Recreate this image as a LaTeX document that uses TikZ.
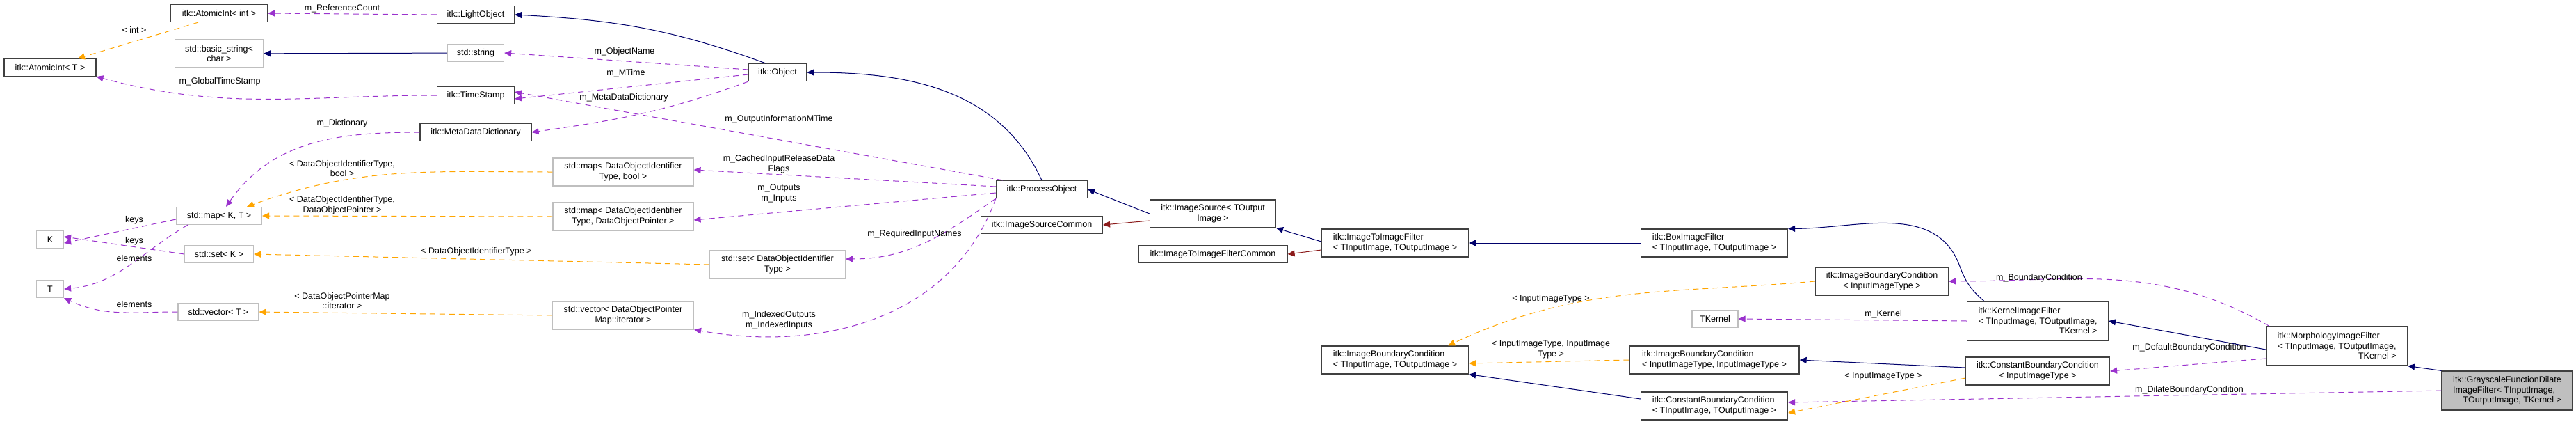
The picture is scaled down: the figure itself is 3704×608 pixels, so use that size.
\documentclass[tikz,border=0pt]{standalone}
\usepackage{fontspec}
\setmainfont{Liberation Sans}
\usetikzlibrary{arrows.meta}
\colorlet{inherit color}{black!10!blue!45!black}
\definecolor{usage color}{HTML}{9A32CD}
\definecolor{instance color}{HTML}{FFA500}
\definecolor{private color}{HTML}{8B1A1A}
\tikzset{
    x={1pt},
    y={-1pt},
    every node/.style={font=\fontsize{12.5}{14.5}\selectfont},
    class/.style={
        draw=black!75, line width={1.2pt},
        fill=white, align=center,
        inner xsep=4pt, inner ysep=2pt,
        minimum width={#1}, minimum height={25},
    },
    class/.default={60},
    external/.style={
        class={#1}, draw=black!25,
    },
    external/.default={40},
    tall/.style={minimum height={40}},
    taller/.style={minimum height={56}},
    edge label/.style={align=center, inner sep=0pt},
    tip/.style={-{Triangle[length=10,width=9]}},
    inherit/.style={tip, draw=inherit color!70!black, line width={1pt},
        -{Triangle[length=10,width=9,fill=inherit color!70!black]}},
    private/.style={draw=private color, line width={1pt},
        -{Triangle[length=10,width=9,fill=private color]}},
    usage/.style={draw=usage color, line width={1pt}, dash pattern=on 8pt off 6pt,
        -{Triangle[length=10,width=9,fill=usage color]}},
    instance/.style={draw=instance color, line width={1pt}, dash pattern=on 8pt off 6pt,
        -{Triangle[length=10,width=9,fill=instance color]}},
}
\colorlet{inherit color}{blue!60!black}
\begin{document}
\begin{tikzpicture}
\useasboundingbox (0,0) rectangle (3704,608);
% classes
\node[class={139}] (atomicint) at (315,19) {itk::AtomicInt< int >};
\node[class={132}] (atomicT) at (72,97) {itk::AtomicInt< T >};
\node[external={127}, tall] (basicstring) at (315,77) {std::basic\_string<\\char >};
\node[class={111}] (lightobject) at (684,21) {itk::LightObject};
\node[external={81}] (string) at (684,76) {std::string};
\node[class={111}] (timestamp) at (684,137) {itk::TimeStamp};
\node[class={160}] (metadict) at (684,190) {itk::MetaDataDictionary};
\node[class={83}] (object) at (1118,104) {itk::Object};
\node[external={123}] (mapKT) at (315,310) {std::map< K, T >};
\node[external={39}] (K) at (72,344) {K};
\node[external={99}] (setK) at (315,365) {std::set< K >};
\node[external={39}] (T) at (72,415) {T};
\node[external={116}] (vectorT) at (314,448) {std::vector< T >};
\node[external={202}, tall] (mapbool) at (896,247) {std::map< DataObjectIdentifier\\Type, bool >};
\node[external={202}, tall] (mappointer) at (896,311) {std::map< DataObjectIdentifier\\Type, DataObjectPointer >};
\node[external={195}, tall] (setid) at (1118,380) {std::set< DataObjectIdentifier\\Type >};
\node[external={203}, tall] (vectoriter) at (896,453) {std::vector< DataObjectPointer\\Map::iterator >};
\node[class={131}] (processobject) at (1498,272) {itk::ProcessObject};
\node[class={175}] (sourcecommon) at (1498,323) {itk::ImageSourceCommon};
\node[class={181}, tall] (imagesource) at (1744,307) {itk::ImageSource< TOutput\\Image >};
\node[class={214}] (filtercommon) at (1744,365) {itk::ImageToImageFilterCommon};
\node[class={211}, tall, align=left] (imagefilter) at (2006,349) {itk::ImageToImageFilter\\< TInputImage, TOutputImage >};
\node[class={211}, tall, align=left] (boxfilter) at (2465,349) {itk::BoxImageFilter\\< TInputImage, TOutputImage >};
\node[class={211}, tall, align=left] (boundary) at (2006,517) {itk::ImageBoundaryCondition\\< TInputImage, TOutputImage >};
\node[class={244}, tall, align=left] (boundarytwo) at (2465,517) {itk::ImageBoundaryCondition\\< InputImageType, InputImageType >};
\node[class={211}, tall, align=left] (constantbc) at (2465,583) {itk::ConstantBoundaryCondition\\< TInputImage, TOutputImage >};
\node[class={191}, tall] (boundaryone) at (2706,404) {itk::ImageBoundaryCondition\\< InputImageType >};
\node[external={66}] (kernel) at (2466,458) {TKernel};
\node[class={203}, taller, align=left] (kernelfilter) at (2930,461) {itk::KernelImageFilter\\< TInputImage, TOutputImage,\\\hfill TKernel >};
\node[class={207}, tall] (constantone) at (2930,533) {itk::ConstantBoundaryCondition\\< InputImageType >};
\node[class={203}, taller, align=left] (morphology) at (3360,497) {itk::MorphologyImageFilter\\< TInputImage, TOutputImage,\\\hfill TKernel >};
\node[class={188}, taller, fill=black!25, align=left] (dilate) at (3605,561) {itk::GrayscaleFunctionDilate\\ImageFilter< TInputImage,\\\hfill TOutputImage, TKernel >};
% inheritance
\draw[inherit] (string) -- (basicstring);
\draw[inherit] (object.north west) ++(25,0) to[out=160,in=-3] (lightobject.east);
\draw[inherit] (processobject.north) to[out=115,in=0] (object.east);
\draw[inherit] (imagesource.west) -- (processobject.east);
\draw[private] (imagesource.west) ++(0,10) -- (sourcecommon.east);
\draw[inherit] (imagefilter.west) ++(0,-2) -- (imagesource.south east);
\draw[private] (imagefilter.west) ++(0,10) -- (filtercommon.east);
\draw[inherit] (boxfilter) -- (imagefilter);
\draw[inherit] (kernelfilter.north west) ++(25,0) to[out=140,in=-70] ++(-35,-50) to[out=110,in=0] (boxfilter.north east);
\draw[inherit] (morphology.west) ++(0,5) -- (kernelfilter.east);
\draw[inherit] (dilate.north west) -- (morphology.south east);
\draw[inherit] (constantone.west) ++(0,-5) -- (boundarytwo.east);
\draw[inherit] (constantbc.west) ++(0,-10) -- (boundary.south east);
% members
\draw[usage] (lightobject.west) -- (atomicint.east);
\draw[usage] (timestamp.west) to[out=180,in=-15] (atomicT.south east);
\draw[usage] (object.west) ++(0,-4) -- (string.east);
\draw[usage] (object.west) ++(0,3) -- ([yshift=-5]timestamp.east);
\draw[usage] (object.south west) to[out=200,in=8] (metadict.east);
\draw[usage] (processobject.north west) ++(10,0) -- ([yshift=5]timestamp.east);
\draw[usage] (metadict.west) to[out=180,in=55] ([xshift=10]mapKT.north);
\draw[usage] (processobject.west) ++(0,-4) -- ([yshift=3]mapbool.east);
\draw[usage] (processobject.west) ++(0,5) -- ([yshift=-5]mappointer.east);
\draw[usage] (processobject.south west) to[out=-145,in=0] ([yshift=8]setid.east);
\draw[usage] (processobject.south west) to[out=-110,in=-10] (vectoriter.south east);
\draw[usage] ([yshift=-5]mapKT.west) -- ([yshift=-5]K.east);
\draw[usage] (setK.west) -- ([yshift=4]K.east);
\draw[usage] ([xshift=-45]mapKT.south) to[out=-150,in=5] (T.east);
\draw[usage] (vectorT.west) to[out=180,in=-25] (T.south east);
\draw[usage] (kernelfilter.west) -- (kernel.east);
\draw[usage] (morphology.north west) ++(5,0) to[out=150,in=0] (boundaryone.east);
\draw[usage] (morphology.west) ++(0,18) -- (constantone.east);
\draw[usage] (dilate.west) -- ([yshift=5]constantbc.east);
% template instances
\draw[instance] ([xshift=-30]atomicint.south) -- ([xshift=40]atomicT.north);
\draw[instance] (mapbool.west) to[out=180,in=20] ([xshift=40]mapKT.north);
\draw[instance] (mappointer.west) -- (mapKT.east);
\draw[instance] (setid.west) -- (setK.east);
\draw[instance] (vectoriter.west) -- (vectorT.east);
\draw[instance] (boundaryone.west) to[out=185,in=25] ([xshift=-30]boundary.north east);
\draw[instance] (boundarytwo.west) -- ([yshift=-5]boundary.east);
\draw[instance] (constantone.west) ++(0,10) -- ([yshift=-10]constantbc.east);
% labels
\node[edge label] (lint) at (193,43) {< int >};
\node[edge label] (lrefcount) at (492,12) {m\_ReferenceCount};
\node[edge label] (lglobal) at (316,117) {m\_GlobalTimeStamp};
\node[edge label] (lobjname) at (898,74) {m\_ObjectName};
\node[edge label] (lmtime) at (900,105) {m\_MTime};
\node[edge label] (lmetadict) at (897,140) {m\_MetaDataDictionary};
\node[edge label] (loutinfo) at (1120,171) {m\_OutputInformationMTime};
\node[edge label] (lcached) at (1120,236) {m\_CachedInputReleaseData\\Flags};
\node[edge label] (loutputs) at (1120,278) {m\_Outputs\\m\_Inputs};
\node[edge label] (lrequired) at (1315,336) {m\_RequiredInputNames};
\node[edge label] (lindexed) at (1120,460) {m\_IndexedOutputs\\m\_IndexedInputs};
\node[edge label] (ldict) at (492,177) {m\_Dictionary};
\node[edge label] (lbool) at (492,242) {< DataObjectIdentifierType,\\bool >};
\node[edge label] (lpointer) at (492,295) {< DataObjectIdentifierType,\\DataObjectPointer >};
\node[edge label] (lidtype) at (685,361) {< DataObjectIdentifierType >};
\node[edge label] (liter) at (492,432) {< DataObjectPointerMap\\::iterator >};
\node[edge label] (lkeysa) at (193,316) {keys};
\node[edge label] (lkeysb) at (193,346) {keys};
\node[edge label] (lelema) at (193,371) {elements};
\node[edge label] (lelemb) at (193,437) {elements};
\node[edge label] (linputone) at (2230,429) {< InputImageType >};
\node[edge label] (linputtwo) at (2230,502) {< InputImageType, InputImage\\Type >};
\node[edge label] (lkernel) at (2708,451) {m\_Kernel};
\node[edge label] (linputthree) at (2708,540) {< InputImageType >};
\node[edge label] (lboundary) at (2932,399) {m\_BoundaryCondition};
\node[edge label] (ldefault) at (3148,499) {m\_DefaultBoundaryCondition};
\node[edge label] (ldilate) at (3148,560) {m\_DilateBoundaryCondition};
\end{tikzpicture}
\end{document}
